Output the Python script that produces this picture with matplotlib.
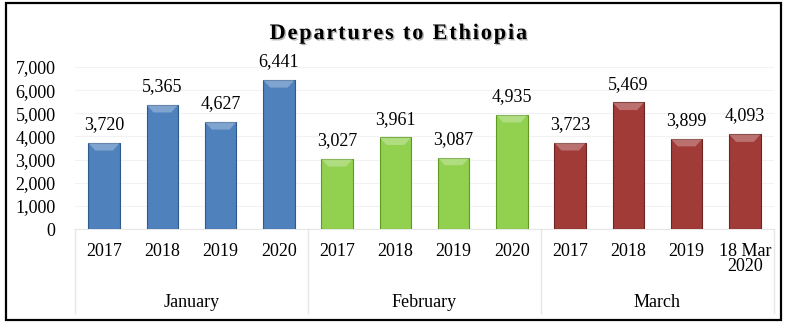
import matplotlib
matplotlib.use("Agg")
import matplotlib.pyplot as plt
import matplotlib.patheffects as pe
from matplotlib.patches import Rectangle, Polygon

# data
months = ["January", "February", "March"]
years = ["2017", "2018", "2019", "2020", "2017", "2018", "2019", "2020",
         "2017", "2018", "2019", "18 Mar\n2020"]
departures = [3720, 5365, 4627, 6441, 3027, 3961, 3087, 4935,
              3723, 5469, 3899, 4093]
month_colors = ["#4F81BD", "#92D050", "#A03B38"]
edge_colors = ["#2E5A8E", "#5E9A22", "#6E2522"]

plt.rcParams["font.family"] = ["Liberation Serif", "DejaVu Serif"]

fig = plt.figure(figsize=(7.87, 3.24), dpi=100)
ax = fig.add_axes([0.0953, 0.2932, 0.8882, 0.5000])

x = list(range(len(departures)))
colors = [month_colors[i // 4] for i in x]
edges = [edge_colors[i // 4] for i in x]
bars = ax.bar(x, departures, width=0.54, color=colors, edgecolor=edges,
              linewidth=0.8, zorder=3)

# lighter bevel at the top of each bar
for b in bars:
    bx, bw, bh = b.get_x(), b.get_width(), b.get_height()
    ins, d = bw * 0.22, 330
    ax.add_patch(Polygon([(bx, bh), (bx + bw, bh), (bx + bw - ins, bh - d),
                          (bx + ins, bh - d)], closed=True,
                         facecolor="white", alpha=0.28, linewidth=0, zorder=4))

for xi, v in zip(x, departures):
    ax.annotate(f"{v:,}", (xi, v), xytext=(0, 7), textcoords="offset points",
                ha="center", va="bottom", fontsize=13)

ax.set_xlim(-0.5, len(departures) - 0.5)
ax.set_ylim(0, 7000)
ax.set_yticks(range(0, 7001, 1000))
ax.set_yticklabels([f"{t:,}" for t in range(0, 7001, 1000)])
ax.yaxis.grid(True, color="#F2F2F2", linewidth=0.8, zorder=0)
ax.set_xticks(x)
ax.set_xticklabels(years, fontsize=13, linespacing=0.85, va="top")
ax.tick_params(axis="y", length=0, labelsize=13, pad=14)
ax.tick_params(axis="x", length=0, pad=10)
for side in ["top", "right", "left"]:
    ax.spines[side].set_visible(False)
ax.spines["bottom"].set_color("#E6E6E6")

# month group labels and separators below the axis
for i, m in enumerate(months):
    ax.text((i * 4 + 1.5), -0.455, m, transform=ax.get_xaxis_transform(),
            ha="center", va="center", fontsize=13)
for k in range(0, 13, 4):
    ax.plot([k - 0.5, k - 0.5], [0, -0.52], transform=ax.get_xaxis_transform(),
            color="#E6E6E6", linewidth=1, clip_on=False)

title = "\u200a".join("Departures to Ethiopia")
fig.text(0.507, 0.895, title, ha="center", va="center",
         fontsize=16, fontweight="bold",
         path_effects=[pe.withSimplePatchShadow(offset=(1, -1), alpha=0.3)])

# outer frame
fig.patches.append(Rectangle((0.007, 0.012), 0.986, 0.978, transform=fig.transFigure,
                             fill=False, edgecolor="black", linewidth=1.6))

fig.savefig("out.png", dpi=100)
